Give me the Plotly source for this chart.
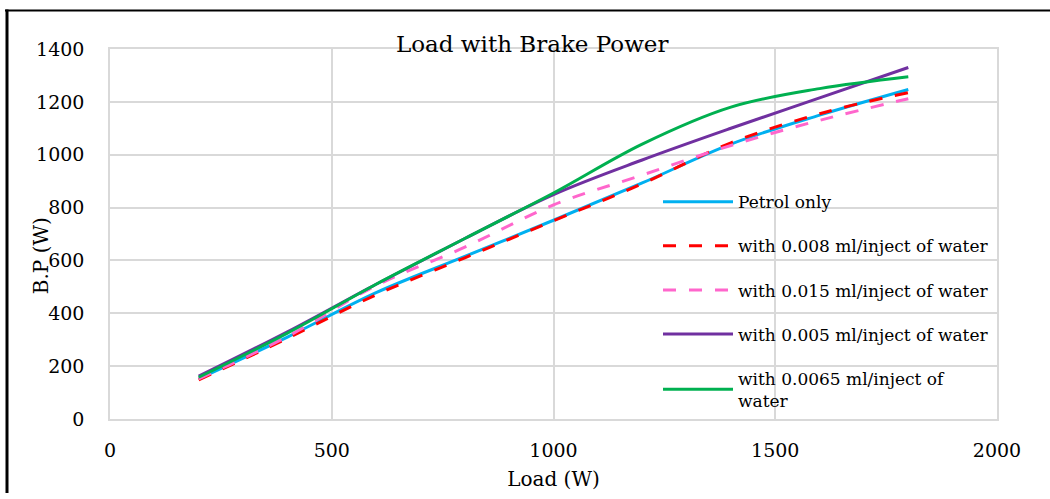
import plotly.graph_objects as go

loads = [200, 400, 600, 800, 1000, 1200, 1400, 1600, 1800]
petrol = [152, 310, 478, 615, 752, 893, 1040, 1150, 1247]
w008 = [148, 305, 470, 610, 750, 890, 1045, 1155, 1235]
w015 = [152, 312, 505, 650, 810, 923, 1035, 1130, 1212]
w005 = [162, 330, 510, 683, 849, 980, 1100, 1215, 1330]
w0065 = [158, 325, 510, 683, 855, 1040, 1180, 1250, 1295]

names = ["Petrol only", "with 0.008 ml/inject of water", "with 0.015 ml/inject of water",
         "with 0.005 ml/inject of water", "with 0.0065 ml/inject of<br>water"]
series = [petrol, w008, w015, w005, w0065]
colors = ["#00B0F0", "#FF0000", "#FF66CC", "#7030A0", "#00B050"]
dashes = ["solid", "13px,13px", "13px,13px", "solid", "solid"]

FONT = "DejaVu Serif"
W, H = 1050, 499
L, R, T, B = 110, 53, 49, 75
pw, ph = W - L - R, H - T - B

fig = go.Figure()
for i, (nm, ys, c, d) in enumerate(zip(names, series, colors, dashes)):
    fig.add_trace(go.Scatter(
        x=loads, y=ys, mode="lines", name=nm, legendgroup=str(i),
        line=dict(color=c, width=3, dash=d, shape="spline", smoothing=1.0),
    ))

def px2paper_x(px):
    return (px - L) / pw

def px2paper_y(py):
    return (H - B - py) / ph

fig.update_layout(
    width=W, height=H,
    margin=dict(l=L, r=R, t=T, b=B),
    paper_bgcolor="white", plot_bgcolor="white",
    font=dict(family=FONT, color="black", size=17),
    showlegend=True,
    legend=dict(
        x=px2paper_x(658), xanchor="left",
        y=px2paper_y(186), yanchor="top",
        bgcolor="rgba(0,0,0,0)", borderwidth=0,
        font=dict(family=FONT, size=17, color="black"),
        traceorder="grouped", tracegroupgap=19, itemwidth=70,
    ),
    xaxis=dict(
        range=[0, 2000], dtick=500, tick0=0,
        showgrid=True, gridcolor="#d9d9d9", gridwidth=1.5,
        showline=True, linecolor="#d9d9d9", linewidth=1.5, mirror=True,
        zeroline=False, ticks="", ticklabelstandoff=13,
        tickfont=dict(family=FONT, size=19),
        title=dict(text="Load (W)", font=dict(family=FONT, size=20), standoff=12),
    ),
    yaxis=dict(
        range=[0, 1400], dtick=200, tick0=0,
        showgrid=True, gridcolor="#d9d9d9", gridwidth=1.5,
        showline=True, linecolor="#d9d9d9", linewidth=1.5, mirror=True,
        zeroline=False, ticks="", ticklabelstandoff=20,
        tickfont=dict(family=FONT, size=19),
    ),
)

fig.add_annotation(
    text="Load with Brake Power", xref="paper", yref="paper",
    x=px2paper_x(532), y=px2paper_y(44), xanchor="center", yanchor="middle",
    showarrow=False, font=dict(family=FONT, size=23, color="black"),
)
fig.add_annotation(
    text="B.P (W)", xref="paper", yref="paper", textangle=-90,
    x=px2paper_x(41), y=px2paper_y(259), xanchor="center", yanchor="middle",
    showarrow=False, font=dict(family=FONT, size=20, color="black"),
)

# outer frame lines (left and top)
fig.add_shape(type="line", xref="paper", yref="paper",
              x0=px2paper_x(7), x1=px2paper_x(7), y0=px2paper_y(9), y1=px2paper_y(499),
              line=dict(color="black", width=3))
fig.add_shape(type="line", xref="paper", yref="paper",
              x0=px2paper_x(5), x1=px2paper_x(1050), y0=px2paper_y(10), y1=px2paper_y(10),
              line=dict(color="black", width=2))

fig.write_html("out.html")
